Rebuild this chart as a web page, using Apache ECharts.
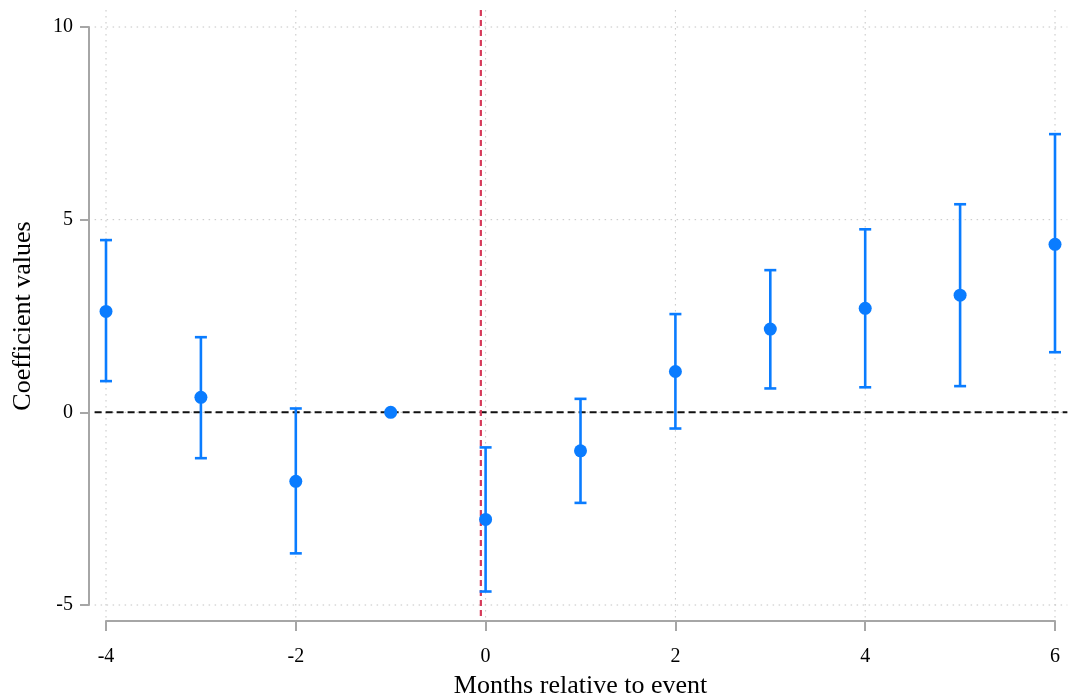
<!DOCTYPE html>
<html>
<head>
<meta charset="utf-8">
<script src="https://cdn.jsdelivr.net/npm/echarts@6/dist/echarts.min.js"></script>
<style>
  html, body { margin: 0; padding: 0; background: #fff; }
  #chart { width: 1070px; height: 698px; }
</style>
</head>
<body>
<div id="chart"></div>
<script>
// event-study estimates
const months = [-4, -3, -2, -1, 0, 1, 2, 3, 4, 5, 6];
const coef = [2.62, 0.39, -1.79, 0, -2.78, -1.0, 1.06, 2.16, 2.70, 3.04, 4.36];
const ciLow = [0.81, -1.19, -3.66, null, -4.65, -2.35, -0.42, 0.62, 0.65, 0.68, 1.56];
const ciHigh = [4.47, 1.95, 0.10, null, -0.91, 0.35, 2.55, 3.69, 4.75, 5.40, 7.22];

const xTicks = [-4, -2, 0, 2, 4, 6];
const yTicks = [-5, 0, 5, 10];
const eventLine = -0.05;   // red vertical reference
const zeroLine = 0;        // black horizontal reference

// plot region a bit wider than the axis ranges (Stata style)
const xSpan = [-4.12, 6.13];
const ySpan = [-5.39, 10.44];

const blue = '#0a7cff';
const font = 'Liberation Serif';

const chart = echarts.init(document.getElementById('chart'));

// dotted grid lines + reference lines
function gridItem(params, api) {
  const children = [];
  xTicks.forEach(v => {
    const a = api.coord([v, ySpan[1]]), b = api.coord([v, ySpan[0]]);
    children.push({ type: 'line', shape: { x1: a[0], y1: a[1], x2: b[0], y2: b[1] },
      style: { stroke: '#c4c4c4', lineWidth: 1, lineDash: [1.5, 4.5] } });
  });
  yTicks.forEach(v => {
    const a = api.coord([xSpan[0], v]), b = api.coord([xSpan[1], v]);
    children.push({ type: 'line', shape: { x1: a[0], y1: a[1], x2: b[0], y2: b[1] },
      style: { stroke: '#c4c4c4', lineWidth: 1, lineDash: [1.5, 4.5] } });
  });
  let a = api.coord([xSpan[0], zeroLine]), b = api.coord([xSpan[1], zeroLine]);
  children.push({ type: 'line', shape: { x1: a[0], y1: a[1], x2: b[0], y2: b[1] },
    style: { stroke: '#111', lineWidth: 2, lineDash: [7, 4] } });
  a = api.coord([eventLine, ySpan[1]]); b = api.coord([eventLine, ySpan[0]]);
  children.push({ type: 'line', shape: { x1: a[0], y1: a[1], x2: b[0], y2: b[1] },
    style: { stroke: '#d63a5a', lineWidth: 2.2, lineDash: [6, 4] } });
  return { type: 'group', children };
}

// error bars with caps
function ciItem(params, api) {
  const lo = api.value(1), hi = api.value(2);
  if (lo === null || isNaN(lo)) return null;
  const top = api.coord([api.value(0), hi]);
  const bot = api.coord([api.value(0), lo]);
  const hw = 6;
  const st = { stroke: blue, lineWidth: 2.6 };
  return {
    type: 'group',
    children: [
      { type: 'line', shape: { x1: top[0], y1: top[1], x2: bot[0], y2: bot[1] }, style: st },
      { type: 'line', shape: { x1: top[0] - hw, y1: top[1], x2: top[0] + hw, y2: top[1] }, style: st },
      { type: 'line', shape: { x1: bot[0] - hw, y1: bot[1], x2: bot[0] + hw, y2: bot[1] }, style: st }
    ]
  };
}

const option = {
  animation: false,
  backgroundColor: '#fff',
  grid: { left: 106, right: 15, top: 27, bottom: 93, containLabel: false, outerBoundsMode: 'none' },
  xAxis: {
    type: 'value',
    min: -4, max: 6, interval: 2,
    offset: 16,
    name: 'Months relative to event',
    nameLocation: 'middle',
    nameGap: 52,
    nameTextStyle: { fontFamily: font, fontSize: 26, color: '#000' },
    axisLine: { show: true, onZero: false, lineStyle: { color: '#a6a6a6', width: 2 } },
    axisTick: { show: true, length: 10, lineStyle: { color: '#a6a6a6', width: 2 } },
    axisLabel: { fontFamily: font, fontSize: 20, color: '#000', margin: 26 },
    splitLine: { show: false }
  },
  yAxis: {
    type: 'value',
    min: -5, max: 10, interval: 5,
    offset: 17,
    name: 'Coefficient values',
    nameLocation: 'middle',
    nameGap: 53,
    nameTextStyle: { fontFamily: font, fontSize: 26, color: '#000' },
    axisLine: { show: true, onZero: false, lineStyle: { color: '#a6a6a6', width: 2 } },
    axisTick: { show: true, length: 9, lineStyle: { color: '#a6a6a6', width: 2 } },
    axisLabel: { fontFamily: font, fontSize: 20, color: '#000', margin: 16 },
    splitLine: { show: false }
  },
  series: [
    {
      type: 'custom',
      renderItem: gridItem,
      clip: false,
      silent: true,
      data: [[0, 0]],
      z: 1
    },
    {
      type: 'custom',
      renderItem: ciItem,
      clip: false,
      data: months.map((m, i) => [m, ciLow[i], ciHigh[i]]),
      encode: { x: 0, y: [1, 2] },
      z: 3
    },
    {
      type: 'scatter',
      symbol: 'circle',
      symbolSize: 13,
      itemStyle: { color: blue, opacity: 1 },
      data: months.map((m, i) => [m, coef[i]]),
      z: 4
    }
  ]
};

chart.setOption(option);
</script>
</body>
</html>
